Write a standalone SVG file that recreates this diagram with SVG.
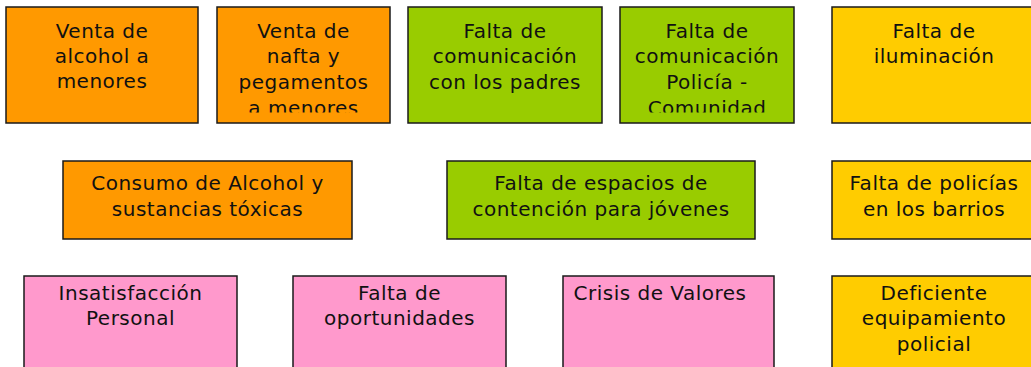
<svg xmlns="http://www.w3.org/2000/svg" width="1031" height="367" viewBox="0 0 1031 367">
<style>
rect.b{stroke:#1a1a1a;stroke-width:1.5}
.o{fill:#FF9900}.g{fill:#99CC00}.y{fill:#FFCC00}.p{fill:#FF99CC}
text{font-family:"DejaVu Sans",Verdana,sans-serif;font-size:20px;fill:#111;text-anchor:middle;letter-spacing:0.5px}
</style>
<defs>
<clipPath id="c2"><rect x="217" y="7" width="173" height="105.5"/></clipPath>
<clipPath id="c4"><rect x="620" y="7" width="174" height="105.5"/></clipPath>
</defs>
<rect width="1031" height="367" fill="#fff"/>
<g id="n1"><rect class="b o" x="6" y="7" width="192" height="116"/>
<text x="102" y="38">Venta de</text><text x="102" y="63">alcohol a</text><text x="102" y="88">menores</text></g>
<g id="n2"><rect class="b o" x="217" y="7" width="173" height="116"/>
<g clip-path="url(#c2)"><text x="303.5" y="38">Venta de</text><text x="303.5" y="63">nafta y</text><text x="303.5" y="89">pegamentos</text><text x="303.5" y="114.5">a menores</text></g></g>
<g id="n3"><rect class="b g" x="408" y="7" width="194" height="116"/>
<text x="505" y="38">Falta de</text><text x="505" y="63">comunicación</text><text x="505" y="89">con los padres</text></g>
<g id="n4"><rect class="b g" x="620" y="7" width="174" height="116"/>
<g clip-path="url(#c4)"><text x="707" y="38">Falta de</text><text x="707" y="63">comunicación</text><text x="707" y="89">Policía -</text><text x="707" y="114.5">Comunidad</text></g></g>
<g id="n5"><rect class="b y" x="832" y="7" width="202" height="116"/>
<text x="934" y="38">Falta de</text><text x="934" y="63">iluminación</text></g>
<g id="n6"><rect class="b o" x="63" y="161" width="289" height="78"/>
<text x="207.5" y="190">Consumo de Alcohol y</text><text x="207.5" y="216">sustancias tóxicas</text></g>
<g id="n7"><rect class="b g" x="447" y="161" width="308" height="78"/>
<text x="601" y="190">Falta de espacios de</text><text x="601" y="216">contención para jóvenes</text></g>
<g id="n8"><rect class="b y" x="832" y="161" width="202" height="78"/>
<text x="934" y="190">Falta de policías</text><text x="934" y="216">en los barrios</text></g>
<g id="n9"><rect class="b p" x="24" y="276" width="213" height="110"/>
<text x="130.5" y="300">Insatisfacción</text><text x="130.5" y="325">Personal</text></g>
<g id="n10"><rect class="b p" x="293" y="276" width="213" height="110"/>
<text x="399.5" y="300">Falta de</text><text x="399.5" y="325">oportunidades</text></g>
<g id="n11"><rect class="b p" x="563" y="276" width="211" height="110"/>
<text x="660" y="300">Crisis de Valores</text></g>
<g id="n12"><rect class="b y" x="832" y="276" width="202" height="110"/>
<text x="934" y="300">Deficiente</text><text x="934" y="325">equipamiento</text><text x="934" y="351">policial</text></g>
<g id="connectors"></g>
</svg>
